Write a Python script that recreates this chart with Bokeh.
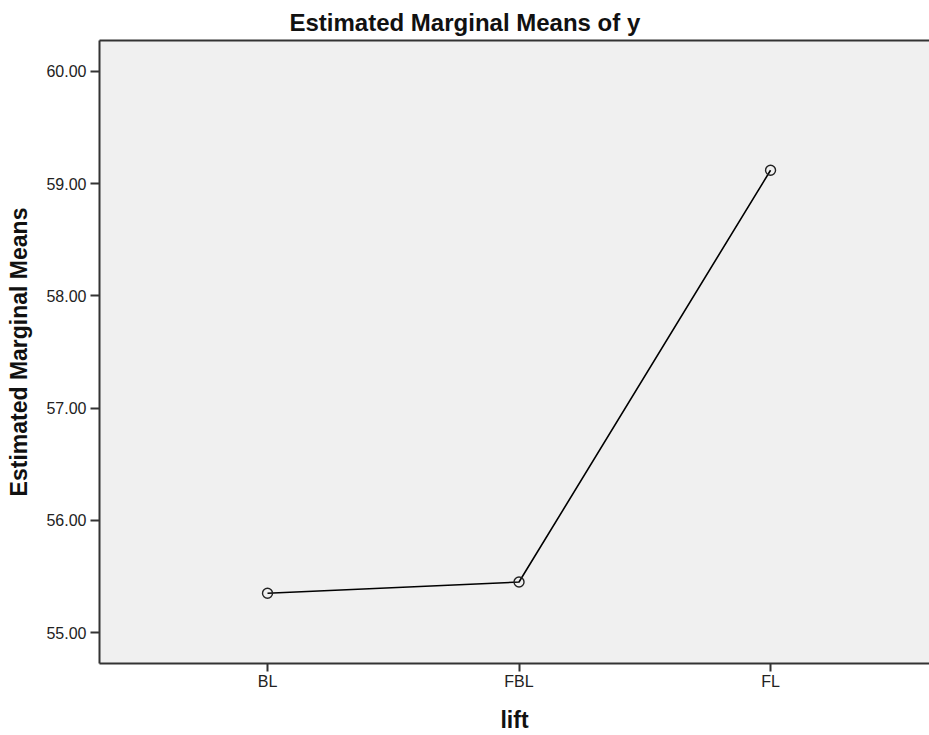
from bokeh.plotting import figure
from bokeh.models import FixedTicker, Range1d, NumeralTickFormatter, LinearAxis
from bokeh.embed import file_html
from bokeh.resources import INLINE

categories = ["BL", "FBL", "FL"]
means = [55.35, 55.45, 59.12]
y_ticks = [55, 56, 57, 58, 59, 60]

xs = list(range(1, len(categories) + 1))

p = figure(width=929, height=735, output_backend="svg", toolbar_location=None,
           x_range=Range1d(0.332, 3.632), y_range=Range1d(54.724, 60.276),
           min_border_left=99, min_border_right=0, min_border_top=40, min_border_bottom=72)

p.title.text = "Estimated Marginal Means of y"
p.title.text_font = "Liberation Sans"
p.title.text_font_size = "24px"
p.title.text_font_style = "bold"
p.title.text_color = "#111111"
p.title.align = "left"
p.title.offset = 190

p.background_fill_color = "#f0f0f0"
p.border_fill_color = "white"
p.outline_line_color = None
p.grid.visible = False

xaxis = p.below[0]
yaxis = p.left[0]

for ax in (xaxis, yaxis):
    ax.axis_line_width = 2
    ax.axis_line_color = "#333333"
    ax.major_tick_line_color = "#333333"
    ax.major_tick_line_width = 2
    ax.major_tick_in = 0
    ax.minor_tick_line_color = None
    ax.major_label_text_font = "Liberation Sans"
    ax.major_label_text_font_size = "16px"
    ax.major_label_text_color = "#222222"
    ax.axis_label_text_font = "Liberation Sans"
    ax.axis_label_text_font_style = "bold"
    ax.axis_label_text_color = "#111111"

xaxis.ticker = FixedTicker(ticks=xs)
xaxis.major_label_overrides = {x: c for x, c in zip(xs, categories)}
xaxis.major_tick_out = 8
xaxis.major_label_standoff = 1
xaxis.axis_label = "lift"
xaxis.axis_label_text_font_size = "23px"
xaxis.axis_label_standoff = 14

yaxis.ticker = FixedTicker(ticks=y_ticks)
yaxis.formatter = NumeralTickFormatter(format="0.00")
yaxis.major_tick_out = 9
yaxis.major_label_standoff = 4
yaxis.axis_label = "Estimated Marginal Means"
yaxis.axis_label_text_font_size = "23px"
yaxis.axis_label_standoff = 11

# top frame edge (the right edge of the frame is cut off in the reference)
top = LinearAxis(ticker=FixedTicker(ticks=[]), axis_line_width=2, axis_line_color="#333333",
                 major_tick_line_color=None, minor_tick_line_color=None,
                 major_label_text_font_size="0px")
p.add_layout(top, "above")

p.line(xs, means, line_color="black", line_width=1.6)
p.scatter(xs, means, marker="circle", size=10, fill_color=None,
          line_color="#222222", line_width=1.4)

open("out.html", "w").write(file_html(p, INLINE))
